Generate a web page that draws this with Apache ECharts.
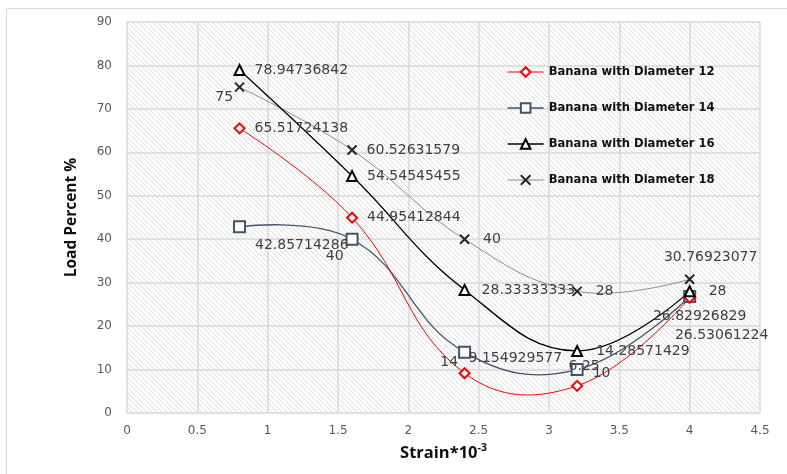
<!DOCTYPE html>
<html>
<head>
<meta charset="utf-8">
<script src="https://cdn.jsdelivr.net/npm/echarts@6/dist/echarts.min.js"></script>
<style>
html,body{margin:0;padding:0;background:#fff;}
#chart{width:787px;height:474px;}
</style>
</head>
<body>
<div id="chart"></div>
<script>
// ---- Data ----
var strain = [0.8, 1.6, 2.4, 3.2, 4];
var d12 = [65.51724138, 44.95412844, 9.154929577, 6.25, 26.53061224];
var d14 = [42.85714286, 40, 14, 10, 26.82926829];
var d16 = [78.94736842, 54.54545455, 28.33333333, 14.28571429, 28];
var d18 = [75, 60.52631579, 40, 28, 30.76923077];
var seriesNames = ['Banana with Diameter 12', 'Banana with Diameter 14', 'Banana with Diameter 16', 'Banana with Diameter 18'];
var yTicks = [0, 10, 20, 30, 40, 50, 60, 70, 80, 90];
var xTicks = [0, 0.5, 1, 1.5, 2, 2.5, 3, 3.5, 4, 4.5];

// ---- Styles ----
var colors = ['#ff0000', '#44546a', '#000000', '#8c8c8c'];
var widths = [1, 1.3, 1.3, 1];
var SMOOTH = 0.42;

// ---- Label placement (style only) ----
var lab12 = [['right',[0,0]],['right',[0,0]],['right',[-11,-15]],['top',[7,3]],['bottom',[32,16]]];
var lab14 = [['right',[0,19]],['left',[7,17]],['left',[9,10]],['right',[0,4]],['bottom',[10,-3]]];
var lab16 = [['right',[0,0]],['right',[0,0]],['right',[2,0]],['right',[4,0]],['right',[4,0]]];
var lab18 = [['left',[8,10]],['right',[0,0]],['right',[4,0]],['right',[4,0]],['top',[21,0]]];

function build(vals, labs) {
  return vals.map(function (v, i) {
    return {
      value: [strain[i], v],
      label: { position: labs[i][0], offset: labs[i][1] }
    };
  });
}

// smooth curve drawn by the library's polyline through axis coordinates
function curveSeries(vals, idx) {
  return {
    type: 'custom',
    silent: true,
    z: 1,
    data: vals.map(function (v, i) { return [strain[i], v]; }),
    encode: { x: 0, y: 1 },
    renderItem: function (params, api) {
      if (params.dataIndexInside !== 0) return null;
      var pts = vals.map(function (v, i) { return api.coord([strain[i], v]); });
      return {
        type: 'polyline',
        shape: { points: pts, smooth: SMOOTH },
        style: { stroke: colors[idx], lineWidth: widths[idx], fill: null }
      };
    }
  };
}

// hatch pattern
var pc = document.createElement('canvas');
pc.width = 5; pc.height = 5;
var pctx = pc.getContext('2d');
pctx.fillStyle = '#ffffff';
pctx.fillRect(0, 0, 5, 5);
pctx.strokeStyle = '#dedede';
pctx.lineWidth = 1;
pctx.beginPath();
pctx.moveTo(-1, -1); pctx.lineTo(6, 6);
pctx.moveTo(-6, -1); pctx.lineTo(1, 6);
pctx.moveTo(4, -1); pctx.lineTo(11, 6);
pctx.stroke();

var labelStyle = {
  show: true,
  distance: 9,
  color: '#404040',
  fontFamily: 'DejaVu Sans',
  fontSize: 14,
  formatter: function (p) { return String(p.value[1]); }
};

var crossPath = 'path://M0,0L10,10M10,0L0,10';

var chart = echarts.init(document.getElementById('chart'), null, { renderer: 'canvas' });
chart.setOption({
  animation: false,
  backgroundColor: '#ffffff',
  graphic: [{
    type: 'rect',
    shape: { x: 6.5, y: 8.5, width: 900, height: 600 },
    style: { fill: null, stroke: '#d9d9d9', lineWidth: 1 },
    silent: true, z: -10
  }],
  grid: {
    left: 127, right: 27, top: 22, bottom: 61,
    show: true,
    backgroundColor: { image: pc, repeat: 'repeat' },
    borderWidth: 0
  },
  legend: {
    orient: 'vertical',
    left: 507, top: 66,
    padding: 0,
    itemWidth: 36, itemHeight: 12,
    itemGap: 24,
    itemTextGap: 5,
    textStyle: { fontFamily: 'DejaVu Sans', fontWeight: 'bold', fontSize: 11.6, color: '#111' },
    data: seriesNames.map(function (n, i) {
      return { name: n, lineStyle: { color: colors[i], width: widths[i], opacity: 1 } };
    })
  },
  xAxis: {
    type: 'value',
    min: 0, max: 4.5, interval: 0.5,
    name: '{b|Strain*10}{s|-3}',
    nameLocation: 'middle',
    nameGap: 30,
    nameTextStyle: {
      rich: {
        b: { fontFamily: 'Open Sans', fontWeight: 'bold', fontSize: 16.5, color: '#111' },
        s: { fontFamily: 'Open Sans', fontWeight: 'bold', fontSize: 10.5, color: '#111', padding: [0, 0, 10, 0] }
      }
    },
    axisLine: { show: false },
    axisTick: { show: false },
    axisLabel: {
      color: '#595959', fontFamily: 'DejaVu Sans', fontSize: 12, margin: 12,
      formatter: function (v) { return xTicks.indexOf(v) >= 0 ? String(v) : ''; }
    },
    splitLine: { show: true, lineStyle: { color: '#d9d9d9', width: 1.5 } }
  },
  yAxis: {
    type: 'value',
    min: 0, max: 90, interval: 10,
    name: 'Load Percent %',
    nameLocation: 'middle',
    nameGap: 47,
    nameTextStyle: { fontFamily: 'Open Sans', fontWeight: 'bold', fontSize: 15.5, color: '#111' },
    axisLine: { show: false },
    axisTick: { show: false },
    axisLabel: {
      color: '#595959', fontFamily: 'DejaVu Sans', fontSize: 12, margin: 15,
      formatter: function (v) { return yTicks.indexOf(v) >= 0 ? String(v) : ''; }
    },
    splitLine: { show: true, lineStyle: { color: '#d9d9d9', width: 1.5 } }
  },
  series: [
    curveSeries(d18, 3),
    curveSeries(d14, 1),
    curveSeries(d12, 0),
    curveSeries(d16, 2),
    {
      name: seriesNames[0], type: 'line',
      data: build(d12, lab12),
      symbol: 'emptyDiamond', symbolSize: 10,
      lineStyle: { color: colors[0], width: widths[0], opacity: 0 },
      itemStyle: { color: colors[0], borderWidth: 2 },
      label: labelStyle, z: 4
    },
    {
      name: seriesNames[1], type: 'line',
      data: build(d14, lab14),
      symbol: 'emptyRect', symbolSize: 11,
      lineStyle: { color: colors[1], width: widths[1], opacity: 0 },
      itemStyle: { color: colors[1], borderWidth: 2 },
      label: labelStyle, z: 3
    },
    {
      name: seriesNames[2], type: 'line',
      data: build(d16, lab16),
      symbol: 'emptyTriangle', symbolSize: 10,
      lineStyle: { color: colors[2], width: widths[2], opacity: 0 },
      itemStyle: { color: colors[2], borderWidth: 2 },
      label: labelStyle, z: 5
    },
    {
      name: seriesNames[3], type: 'line',
      data: build(d18, lab18),
      symbol: crossPath, symbolSize: 9,
      lineStyle: { color: colors[3], width: widths[3], opacity: 0 },
      itemStyle: { color: '#262626', borderColor: '#262626', borderWidth: 2 },
      label: labelStyle, z: 2
    }
  ]
});
</script>
</body>
</html>
